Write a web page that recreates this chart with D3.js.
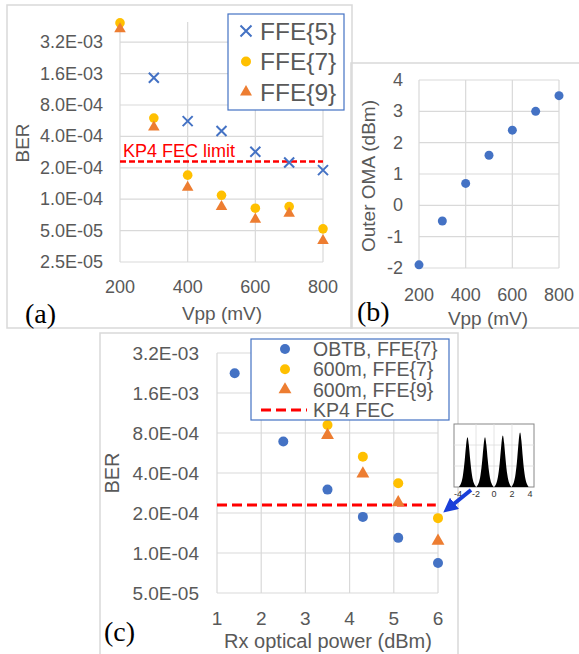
<!DOCTYPE html>
<html>
<head>
<meta charset="utf-8">
<script src="https://cdn.jsdelivr.net/npm/d3@7"></script>
<style>
  body { margin: 0; background: #fff; }
  text { font-family: "Liberation Sans", Arial, sans-serif; fill: #595959; }
  .lbl { font-family: "Liberation Serif", "Times New Roman", serif; fill: #000; }
</style>
</head>
<body>
<svg id="chart" width="579" height="654"></svg>
<script>
// ---- data (a) ----
var vppA = [200, 300, 400, 500, 600, 700, 800];
var vppA5 = [300, 400, 500, 600, 700, 800];
var ffe5A = [1.46e-3, 5.6e-4, 4.5e-4, 2.85e-4, 2.25e-4, 1.9e-4];
var ffe7A = [4.9e-3, 6.0e-4, 1.7e-4, 1.09e-4, 8.2e-5, 8.5e-5, 5.2e-5];
var ffe9A = [4.3e-3, 4.9e-4, 1.3e-4, 8.5e-5, 6.4e-5, 7.3e-5, 4.0e-5];
var berTicksA = [2.5e-5, 5e-5, 1e-4, 2e-4, 4e-4, 8e-4, 1.6e-3, 3.2e-3];
var vppTicks = [200, 400, 600, 800];
var kp4 = 2.3e-4;

// ---- data (b) ----
var vppB = [200, 300, 400, 500, 600, 700, 800];
var omaB = [-1.9, -0.5, 0.7, 1.6, 2.4, 3.0, 3.5];
var omaTicks = [-2, -1, 0, 1, 2, 3, 4];

// ---- data (c) ----
var rxObtb = [1.4, 2.5, 3.5, 4.3, 5.1, 6.0];
var berObtb = [2.25e-3, 6.9e-4, 3.0e-4, 1.87e-4, 1.3e-4, 8.4e-5];
var rx600 = [3.5, 4.3, 5.1, 6.0];
var ber600f7 = [9.2e-4, 5.3e-4, 3.35e-4, 1.83e-4];
var ber600f9 = [7.7e-4, 3.95e-4, 2.4e-4, 1.23e-4];
var berTicksC = [5e-5, 1e-4, 2e-4, 4e-4, 8e-4, 1.6e-3, 3.2e-3];
var rxTicks = [1, 2, 3, 4, 5, 6];

// ---- inset histogram (PAM4 levels) ----
var peakPos = [-2.95, -1.0, 0.98, 2.9];
var peakHeight = [0.84, 0.84, 0.87, 0.92];
var peakOffsets = [-0.95, -0.7, -0.5, -0.3, -0.15, 0, 0.15, 0.3, 0.5, 0.7, 0.95];
var peakShape = [0, 0.06, 0.2, 0.5, 0.82, 1, 0.82, 0.5, 0.2, 0.06, 0];
var insetTicks = [-4, -2, 0, 2, 4];

var blue = "#4472C4", yellow = "#FFC000", orange = "#ED7D31", grid = "#D9D9D9";

var svg = d3.select("#chart");

function fmtE(v) {
  var s = v.toExponential(1).toUpperCase().split("E");
  var e = parseInt(s[1]);
  return s[0] + "E" + (e < 0 ? "-" : "+") + String(Math.abs(e)).padStart(2, "0");
}
function crossPath(s) {
  return "M" + (-s) + "," + (-s) + "L" + s + "," + s + "M" + (-s) + "," + s + "L" + s + "," + (-s);
}
var tri = function(size) { return d3.symbol(d3.symbolTriangle, size)(); };

// panel frames
[[7, 5, 345, 323], [351, 63, 240, 265], [100, 333, 358, 330]].forEach(function(r) {
  svg.append("rect").attr("x", r[0]).attr("y", r[1]).attr("width", r[2]).attr("height", r[3])
    .attr("fill", "none").attr("stroke", grid).attr("stroke-width", 1.5);
});

// ================= panel (a) =================
var xA = d3.scaleLinear().domain([200, 800]).range([120, 323]);
var yA = d3.scaleLog().base(2).domain([2.5e-5, 5e-3]).range([262, 22]);
var gA = svg.append("g");

gA.selectAll(".hg").data(berTicksA).enter().append("line")
  .attr("x1", xA(200)).attr("x2", xA(800))
  .attr("y1", d => yA(d)).attr("y2", d => yA(d))
  .attr("stroke", grid).attr("stroke-width", 1.2);
gA.selectAll(".vg").data(vppTicks).enter().append("line")
  .attr("x1", d => xA(d)).attr("x2", d => xA(d))
  .attr("y1", yA(5e-3)).attr("y2", yA(2.5e-5))
  .attr("stroke", grid).attr("stroke-width", 1.2);

gA.selectAll(".yt").data(berTicksA).enter().append("text")
  .attr("x", 103).attr("y", d => yA(d)).attr("text-anchor", "end")
  .attr("dominant-baseline", "central").style("font-size", "18px").text(fmtE);
gA.selectAll(".xt").data(vppTicks).enter().append("text")
  .attr("x", d => xA(d)).attr("y", 287).attr("text-anchor", "middle")
  .attr("dominant-baseline", "central").style("font-size", "18px").text(d => d);

gA.append("text").attr("x", 222).attr("y", 313).attr("text-anchor", "middle")
  .attr("dominant-baseline", "central").style("font-size", "19px").text("Vpp (mV)");
gA.append("text").attr("transform", "translate(22,143) rotate(-90)").attr("text-anchor", "middle")
  .attr("dominant-baseline", "central").style("font-size", "19px").text("BER");

gA.append("line").attr("x1", xA(200)).attr("x2", xA(800)).attr("y1", yA(kp4)).attr("y2", yA(kp4))
  .attr("stroke", "#FF0000").attr("stroke-width", 2.5).attr("stroke-dasharray", "6,3");
gA.append("text").attr("x", 123).attr("y", 157).style("font-size", "18px").style("fill", "#FF0000")
  .text("KP4 FEC limit");

gA.selectAll(".m5").data(ffe5A).enter().append("path")
  .attr("d", crossPath(5))
  .attr("transform", (d, i) => "translate(" + xA(vppA5[i]) + "," + yA(d) + ")")
  .attr("stroke", blue).attr("stroke-width", 2).attr("fill", "none");
gA.selectAll(".m7").data(ffe7A).enter().append("circle")
  .attr("cx", (d, i) => xA(vppA[i])).attr("cy", d => yA(d)).attr("r", 4.8).attr("fill", yellow);
gA.selectAll(".m9").data(ffe9A).enter().append("path")
  .attr("d", tri(58))
  .attr("transform", (d, i) => "translate(" + xA(vppA[i]) + "," + yA(d) + ")")
  .attr("fill", orange);

// legend (a)
var legA = gA.append("g");
legA.append("rect").attr("x", 228).attr("y", 14).attr("width", 116).attr("height", 96)
  .attr("fill", "#fff").attr("stroke", blue).attr("stroke-width", 1.2);
var legAItems = [["FFE{5}", "x"], ["FFE{7}", "c"], ["FFE{9}", "t"]];
legAItems.forEach(function(it, i) {
  var y = 31 + i * 30.5;
  if (it[1] === "x") legA.append("path").attr("d", crossPath(5.5)).attr("transform", "translate(246," + y + ")")
    .attr("stroke", blue).attr("stroke-width", 2).attr("fill", "none");
  if (it[1] === "c") legA.append("circle").attr("cx", 246).attr("cy", y).attr("r", 5).attr("fill", yellow);
  if (it[1] === "t") legA.append("path").attr("d", tri(62)).attr("transform", "translate(246," + y + ")").attr("fill", orange);
  legA.append("text").attr("x", 260).attr("y", y).attr("dominant-baseline", "central")
    .style("font-size", "24.5px").text(it[0]);
});
svg.append("text").attr("class", "lbl").attr("x", 25).attr("y", 323).style("font-size", "28px").text("(a)");

// ================= panel (b) =================
var xB = d3.scaleLinear().domain([200, 800]).range([419, 559]);
var yB = d3.scaleLinear().domain([-2, 4]).range([268, 80]);
var gB = svg.append("g");
gB.selectAll(".hg").data(omaTicks).enter().append("line")
  .attr("x1", xB(200)).attr("x2", xB(800)).attr("y1", d => yB(d)).attr("y2", d => yB(d))
  .attr("stroke", grid).attr("stroke-width", 1.2);
gB.selectAll(".vg").data(vppTicks).enter().append("line")
  .attr("x1", d => xB(d)).attr("x2", d => xB(d)).attr("y1", yB(4)).attr("y2", yB(-2))
  .attr("stroke", grid).attr("stroke-width", 1.2);
gB.selectAll(".yt").data(omaTicks).enter().append("text")
  .attr("x", 403).attr("y", d => yB(d)).attr("text-anchor", "end")
  .attr("dominant-baseline", "central").style("font-size", "18px").text(d => d);
gB.selectAll(".xt").data(vppTicks).enter().append("text")
  .attr("x", d => xB(d)).attr("y", 295).attr("text-anchor", "middle")
  .attr("dominant-baseline", "central").style("font-size", "18px").text(d => d);
gB.append("text").attr("x", 488).attr("y", 318).attr("text-anchor", "middle")
  .attr("dominant-baseline", "central").style("font-size", "19px").text("Vpp (mV)");
gB.append("text").attr("transform", "translate(368,176) rotate(-90)").attr("text-anchor", "middle")
  .attr("dominant-baseline", "central").style("font-size", "19px").text("Outer OMA (dBm)");
gB.selectAll(".pt").data(omaB).enter().append("circle")
  .attr("cx", (d, i) => xB(vppB[i])).attr("cy", d => yB(d)).attr("r", 4.5).attr("fill", blue);
svg.append("text").attr("class", "lbl").attr("x", 357).attr("y", 321).style("font-size", "28px").text("(b)");

// ================= panel (c) =================
var xC = d3.scaleLinear().domain([1, 6]).range([217, 438]);
var yC = d3.scaleLog().base(2).domain([5e-5, 3.2e-3]).range([593, 353]);
var gC = svg.append("g");
gC.selectAll(".hg").data(berTicksC).enter().append("line")
  .attr("x1", xC(1)).attr("x2", xC(6)).attr("y1", d => yC(d)).attr("y2", d => yC(d))
  .attr("stroke", grid).attr("stroke-width", 1.2);
gC.selectAll(".vg").data(rxTicks).enter().append("line")
  .attr("x1", d => xC(d)).attr("x2", d => xC(d)).attr("y1", yC(3.2e-3)).attr("y2", yC(5e-5))
  .attr("stroke", grid).attr("stroke-width", 1.2);
gC.selectAll(".yt").data(berTicksC).enter().append("text")
  .attr("x", 199).attr("y", d => yC(d)).attr("text-anchor", "end")
  .attr("dominant-baseline", "central").style("font-size", "19px").text(fmtE);
gC.selectAll(".xt").data(rxTicks).enter().append("text")
  .attr("x", d => xC(d)).attr("y", 618).attr("text-anchor", "middle")
  .attr("dominant-baseline", "central").style("font-size", "19px").text(d => d);
gC.append("text").attr("x", 328).attr("y", 641).attr("text-anchor", "middle")
  .attr("dominant-baseline", "central").style("font-size", "20px").text("Rx optical power (dBm)");
gC.append("text").attr("transform", "translate(112,473) rotate(-90)").attr("text-anchor", "middle")
  .attr("dominant-baseline", "central").style("font-size", "20px").text("BER");

gC.append("line").attr("x1", xC(1)).attr("x2", xC(5.95)).attr("y1", yC(kp4)).attr("y2", yC(kp4))
  .attr("stroke", "#FF0000").attr("stroke-width", 3).attr("stroke-dasharray", "10,5");
gC.selectAll(".ob").data(berObtb).enter().append("circle")
  .attr("cx", (d, i) => xC(rxObtb[i])).attr("cy", d => yC(d)).attr("r", 5).attr("fill", blue);
gC.selectAll(".f7").data(ber600f7).enter().append("circle")
  .attr("cx", (d, i) => xC(rx600[i])).attr("cy", d => yC(d)).attr("r", 5).attr("fill", yellow);
gC.selectAll(".f9").data(ber600f9).enter().append("path")
  .attr("d", tri(72))
  .attr("transform", (d, i) => "translate(" + xC(rx600[i]) + "," + yC(d) + ")")
  .attr("fill", orange);

// legend (c)
var legC = gC.append("g");
legC.append("rect").attr("x", 251).attr("y", 339).attr("width", 198).attr("height", 81)
  .attr("fill", "#fff").attr("stroke", blue).attr("stroke-width", 1.2);
var legCItems = [["OBTB, FFE{7}", "cb"], ["600m, FFE{7}", "cy"], ["600m, FFE{9}", "t"], ["KP4 FEC", "l"]];
legCItems.forEach(function(it, i) {
  var y = 349 + i * 20.3;
  if (it[1] === "cb") legC.append("circle").attr("cx", 285).attr("cy", y).attr("r", 5).attr("fill", blue);
  if (it[1] === "cy") legC.append("circle").attr("cx", 285).attr("cy", y).attr("r", 5).attr("fill", yellow);
  if (it[1] === "t") legC.append("path").attr("d", tri(72)).attr("transform", "translate(285," + y + ")").attr("fill", orange);
  if (it[1] === "l") legC.append("line").attr("x1", 261).attr("x2", 307).attr("y1", y).attr("y2", y)
    .attr("stroke", "#FF0000").attr("stroke-width", 3).attr("stroke-dasharray", "10,5");
  legC.append("text").attr("x", 313).attr("y", y).attr("dominant-baseline", "central")
    .style("font-size", "19.5px").text(it[0]);
});
svg.append("text").attr("class", "lbl").attr("x", 104).attr("y", 641).style("font-size", "28px").text("(c)");

// inset histogram
var xI = d3.scaleLinear().domain([-4.45, 4.45]).range([454, 534]);
var yI = d3.scaleLinear().domain([0, 1]).range([487, 424]);
var gI = svg.append("g");
gI.append("rect").attr("x", 454).attr("y", 424).attr("width", 80).attr("height", 63)
  .attr("fill", "#fff").attr("stroke", "#888").attr("stroke-width", 1);
[-2, 0, 2].forEach(function(v) {
  gI.append("line").attr("x1", xI(v)).attr("x2", xI(v)).attr("y1", 424).attr("y2", 487)
    .attr("stroke", "#ddd").attr("stroke-width", 0.8);
});
[1 / 3, 2 / 3].forEach(function(v) {
  gI.append("line").attr("x1", 454).attr("x2", 534).attr("y1", yI(v)).attr("y2", yI(v))
    .attr("stroke", "#ddd").attr("stroke-width", 0.8);
});
var area = d3.area().x(d => xI(d[0])).y0(yI(0)).y1(d => yI(d[1])).curve(d3.curveBasis);
peakPos.forEach(function(p, k) {
  var pts = peakOffsets.map((o, j) => [p + o, peakShape[j] * peakHeight[k]]);
  gI.append("path").attr("d", area(pts)).attr("fill", "#000");
});
gI.selectAll(".it").data(insetTicks).enter().append("text")
  .attr("x", d => xI(d)).attr("y", 494).attr("text-anchor", "middle")
  .attr("dominant-baseline", "central").style("font-size", "9px").style("fill", "#333").text(d => d);

// arrow
svg.append("defs").append("marker").attr("id", "ah").attr("viewBox", "0 0 10 10")
  .attr("refX", 4).attr("refY", 5).attr("markerWidth", 3.6).attr("markerHeight", 3.6)
  .attr("orient", "auto").append("path").attr("d", "M0,0L10,5L0,10Z").attr("fill", "#1A3FD9");
svg.append("line").attr("x1", 471).attr("y1", 490).attr("x2", 450).attr("y2", 507)
  .attr("stroke", "#1A3FD9").attr("stroke-width", 4).attr("marker-end", "url(#ah)");
</script>
</body>
</html>
